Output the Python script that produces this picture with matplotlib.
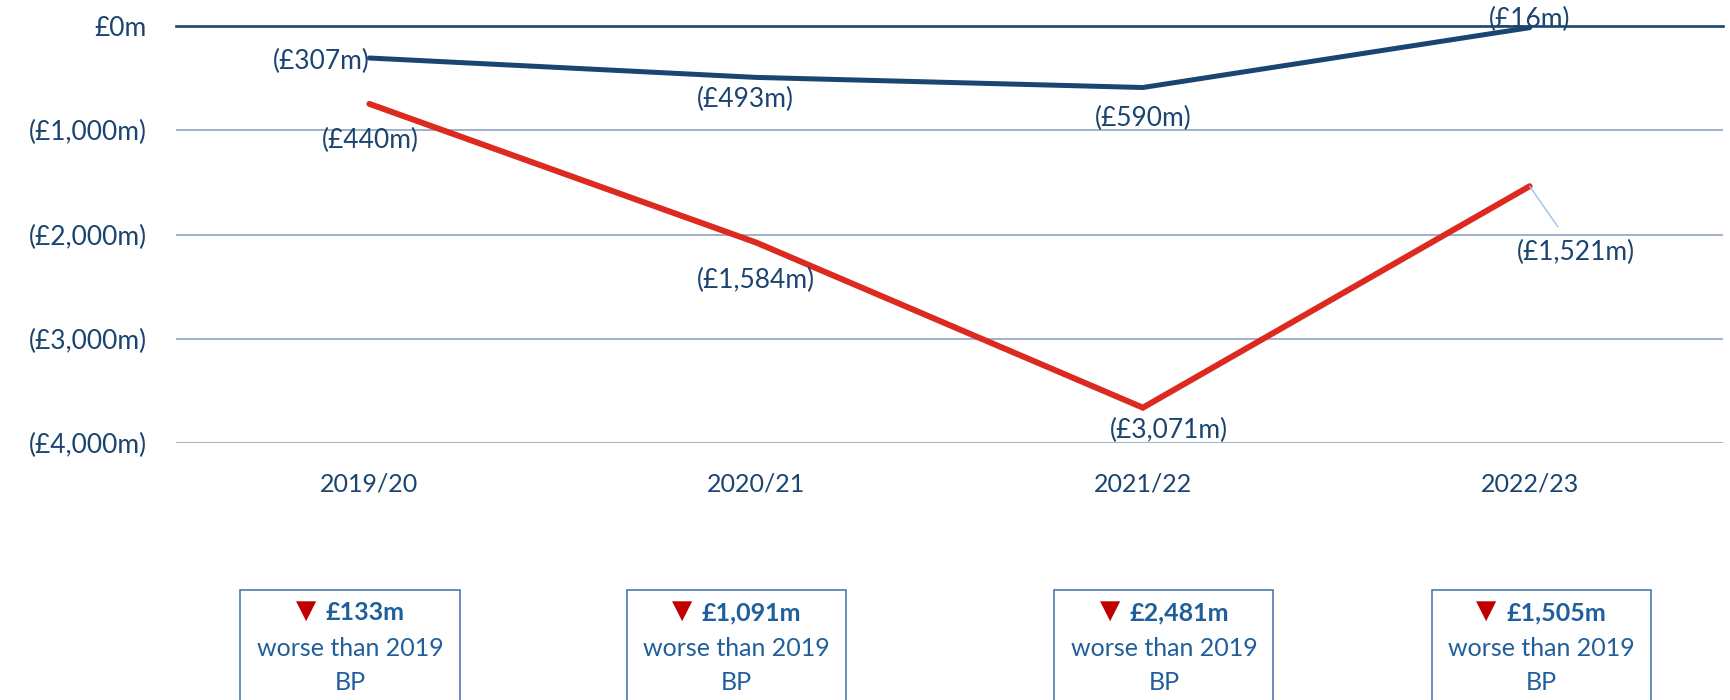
import matplotlib
matplotlib.use("Agg")
import matplotlib.pyplot as plt
from matplotlib.patches import Rectangle
import numpy as np

# ---- data ----
years = ["2019/20", "2020/21", "2021/22", "2022/23"]
series_a = [-307, -493, -590, -16]          # navy line
series_b = [-440, -1584, -3071, -1521]      # red line (stacked on navy)
labels_a = ["(£307m)", "(£493m)", "(£590m)", "(£16m)"]
labels_b = ["(£440m)", "(£1,584m)", "(£3,071m)", "(£1,521m)"]
y_ticks = [0, -1000, -2000, -3000, -4000]
y_ticklabels = ["£0m", "(£1,000m)", "(£2,000m)", "(£3,000m)", "(£4,000m)"]
box_values = ["£133m", "£1,091m", "£2,481m", "£1,505m"]
box_line2 = "worse than 2019"
box_line3 = "BP"

NAVY = "#1A4571"
RED = "#DD2A20"
GRID = "#8FA4BD"
TXT = "#1B4470"
BOXTXT = "#215E9C"
BOXEDGE = "#3B6FA6"

plt.rcParams['font.family'] = ['Lato', 'DejaVu Sans']

W, H = 1731, 700
fig = plt.figure(figsize=(W / 100, H / 100), dpi=100)
ax = fig.add_axes([176 / W, 1 - 443 / H, (1723 - 176) / W, (443 - 26) / H])

x = np.arange(len(years))
a = np.array(series_a, dtype=float)
b = a + np.array(series_b, dtype=float)

ax.set_xlim(-0.5, len(years) - 0.5)
ax.set_ylim(-4000, 0)

for yt in y_ticks[1:]:
    ax.axhline(yt, color=GRID, lw=1.2, zorder=1)
ax.axhline(0, color=NAVY, lw=1.9, zorder=1, clip_on=False)

ax.plot(x, b, color=RED, lw=4.3, solid_capstyle='round', solid_joinstyle='miter', zorder=3)
ax.plot(x, a, color=NAVY, lw=3.6, solid_capstyle='round', zorder=4, clip_on=False)

for s in ax.spines.values():
    s.set_visible(False)
ax.set_yticks(y_ticks)
ax.set_yticklabels(y_ticklabels)
ax.set_xticks(x)
ax.set_xticklabels(years)
ax.tick_params(axis='y', length=0, pad=21, labelsize=19, labelcolor=TXT)
ax.tick_params(axis='x', length=0, pad=21, labelsize=18, labelcolor=TXT)

LBL = 19
# data labels (offsets in pixels)
off_a = [(0, -3, 'right'), (-11, -22, 'center'), (0, -31, 'center'), (0, 8, 'center')]
off_b = [(1, -37, 'center'), (0, -38, 'center'), (26, -23, 'center'), (46, -66, 'center')]
for i in range(len(years)):
    dx, dy, ha = off_a[i]
    ax.annotate(labels_a[i], (x[i], a[i]), xytext=(dx, dy), textcoords='offset pixels',
                ha=ha, va='center', fontsize=LBL, color=TXT, zorder=5, annotation_clip=False)
for i in range(len(years)):
    dx, dy, ha = off_b[i]
    if i == 3:
        ax.annotate(labels_b[i], (x[i], b[i]), xytext=(dx, dy), textcoords='offset pixels',
                    ha=ha, va='center', fontsize=LBL, color=TXT, zorder=5,
                    arrowprops=dict(arrowstyle='-', color='#9CC3E6', lw=1.0,
                                    shrinkA=9, shrinkB=0))
    else:
        ax.annotate(labels_b[i], (x[i], b[i]), xytext=(dx, dy), textcoords='offset pixels',
                    ha=ha, va='center', fontsize=LBL, color=TXT, zorder=5)

# comparison boxes (figure pixel layout)
def fx(px):
    return px / W

def fy(py):
    return 1 - py / H

box_centers = [350, 736, 1164, 1541]
box_w = 219
BOXFS = 18
renderer = fig.canvas.get_renderer()
for i, cx in enumerate(box_centers):
    rect = Rectangle((fx(cx - box_w / 2), fy(730)), box_w / W, (730 - 590) / H,
                     transform=fig.transFigure, fill=False, edgecolor=BOXEDGE, lw=1.1)
    fig.add_artist(rect)
    t = fig.text(fx(cx + 15.5), fy(613), box_values[i], ha='center', va='center',
                 fontsize=BOXFS, fontweight='bold', color=BOXTXT)
    bb = t.get_window_extent(renderer=renderer)
    left_px = cx + 15.5 - bb.width / 2
    fig.text(fx(left_px - 10), fy(611), "▼", ha='right', va='center',
             fontsize=19, color='#C00000', family='DejaVu Sans')
    fig.text(fx(cx), fy(648), box_line2, ha='center', va='center', fontsize=BOXFS, color=BOXTXT)
    fig.text(fx(cx), fy(682), box_line3, ha='center', va='center', fontsize=BOXFS, color=BOXTXT)

fig.savefig("out.png", dpi=100)
